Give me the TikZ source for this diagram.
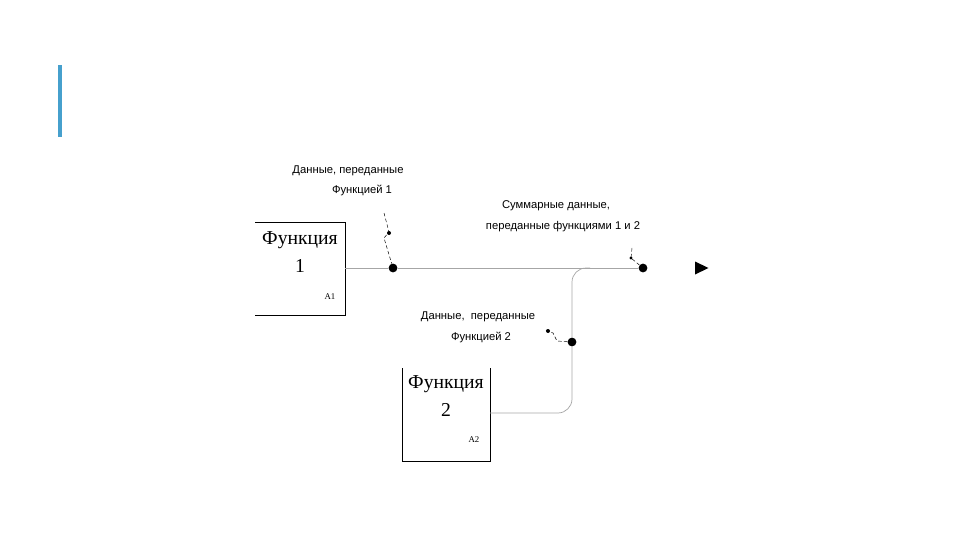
\documentclass[tikz,border=0pt]{standalone}
\usepackage{fontspec}
\setmainfont{Liberation Serif}
\newfontfamily\lbl{Liberation Sans}
\begin{document}
\begin{tikzpicture}[x=0.03cm,y=-0.03cm,
  boxline/.style={draw=black,line width=0.6pt},
  conn/.style={draw=gray!70,line width=0.6pt},
  squig/.style={draw=black,line width=0.4pt,densely dashed},
  jdot/.style={circle,fill=black,inner sep=0pt,minimum size=7.5pt},
  lab/.style={font=\lbl\fontsize{9.6}{11}\selectfont,inner sep=0pt},
  fun/.style={font=\fontsize{16.8}{19}\selectfont,inner sep=0pt},
  ref/.style={font=\fontsize{7.5}{9}\selectfont,inner sep=0pt}]
\useasboundingbox (0,0) rectangle (960,540);
% blue bar
\fill[color={rgb,255:red,70;green,160;blue,205}] (58,65) rectangle (62,137);
% box 1
\draw[boxline] (255,222) -- (345,222) -- (345,315) -- (255,315);
\node[fun] (f1a) at (300,240) {Функция};
\node[fun] (f1b) at (300,266) {1};
\node[ref] (a1) at (330,297) {A1};
% box 2
\draw[boxline] (402,368) -- (402,461) -- (490,461) -- (490,368);
\node[fun] (f2a) at (446,384) {Функция};
\node[fun] (f2b) at (446,410) {2};
\node[ref] (a2) at (474,440) {A2};
% junction dots
\node[jdot] (d1) at (393,268) {};
\node[jdot] (d2) at (643,268) {};
\node[jdot] (d3) at (572,342) {};
\coordinate (o1) at (345,268);
\coordinate (o2) at (490,413);
% connectors
\draw[conn] (o1) -- (d1) -- (d2);
\draw[conn,rounded corners=12pt] (o2) -- (572,413) -- (d3) -- (572,268) -- (590,268);
% arrow head
\fill[black] (695,261.5) -- (708.5,268) -- (695,274.5) -- cycle;
% labels
\node[lab] (l1a) at (348,171) {Данные, переданные};
\node[lab] (l1b) at (362,190) {Функцией 1};
\node[lab] (l2a) at (556,206) {Суммарные данные,};
\node[lab] (l2b) at (563,227) {переданные функциями 1 и 2};
\node[lab] (l3a) at (478,317) {Данные,\ \ переданные};
\node[lab] (l3b) at (481,337) {Функцией 2};
% squiggles
\coordinate (s1) at (384,213);
\coordinate (s2) at (632,248);
\coordinate (s3) at (546,330);
\draw[squig] (s1) -- (389,232) -- (384,238) -- (d1);
\fill (389,233) circle (2);
\draw[squig] (s2) -- (631,258) -- (d2);
\fill (631,258) circle (1.6);
\draw[squig] (s3) -- (553,333) -- (557,341) -- (d3);
\fill (548,331) circle (2);
\end{tikzpicture}
\end{document}
